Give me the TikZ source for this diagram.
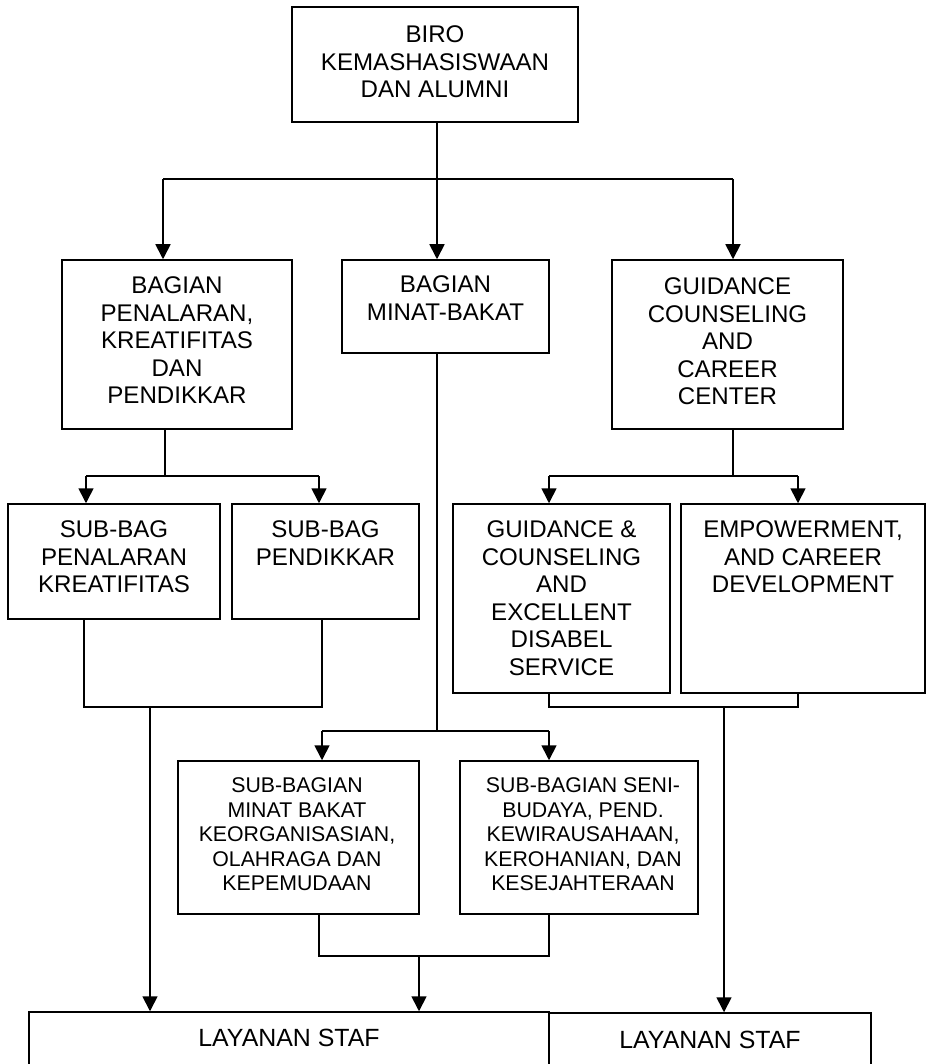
\documentclass[tikz,border=0pt]{standalone}
\usepackage{fontspec}
\setmainfont{Liberation Sans}
\usetikzlibrary{arrows.meta}
\tikzset{
  box/.style={draw, line width=1.5pt, inner sep=0pt},
  txt/.style={align=center, inner sep=0pt, anchor=north, font=\fontsize{24.1}{27.6}\selectfont},
  smalltxt/.style={align=center, inner sep=0pt, anchor=north, font=\fontsize{21.3}{24.5}\selectfont},
  ln/.style={line width=1.7pt},
  arr/.style={line width=1.7pt, -{Triangle[width=15pt,length=15pt]}}
}
\begin{document}
\begin{tikzpicture}[x=1pt,y=-1pt]
\useasboundingbox (0,0) rectangle (927,1064);
\clip (0,0) rectangle (927,1064);
% boxes
\node[box, minimum width=286pt, minimum height=115pt] (top) at (435,64.5) {};
\node[txt] (topt) at (435,25.5) {BIRO\\KEMASHASISWAAN\\DAN ALUMNI};

\node[box, minimum width=230pt, minimum height=169pt] (L1) at (177,344.5) {};
\node[txt] (L1t) at (177,276.5) {BAGIAN\\PENALARAN,\\KREATIFITAS\\DAN\\PENDIKKAR};

\node[box, minimum width=207pt, minimum height=93pt] (M1) at (445.5,306.5) {};
\node[txt] (M1t) at (445.5,275.5) {BAGIAN\\MINAT-BAKAT};

\node[box, minimum width=231pt, minimum height=169pt] (R1) at (727.5,344.5) {};
\node[txt] (R1t) at (727.5,277.5) {GUIDANCE\\COUNSELING\\AND\\CAREER\\CENTER};

\node[box, minimum width=212pt, minimum height=115pt] (L2a) at (114,561.5) {};
\node[txt] (L2at) at (114,520.5) {SUB-BAG\\PENALARAN\\KREATIFITAS};

\node[box, minimum width=187pt, minimum height=115pt] (L2b) at (325.5,561.5) {};
\node[txt] (L2bt) at (325.5,520.5) {SUB-BAG\\PENDIKKAR};

\node[box, minimum width=217pt, minimum height=189pt] (R2a) at (561.5,598.5) {};
\node[txt] (R2at) at (561.5,520.5) {GUIDANCE \&\\COUNSELING\\AND\\EXCELLENT\\DISABEL\\SERVICE};

\node[box, minimum width=244pt, minimum height=189pt] (R2b) at (803,598.5) {};
\node[txt] (R2bt) at (803,520.5) {EMPOWERMENT,\\AND CAREER\\DEVELOPMENT};

\node[box, minimum width=241pt, minimum height=153pt] (M2a) at (298.5,837.5) {};
\node[smalltxt] (M2at) at (297,777.5) {SUB-BAGIAN\hspace{18pt}\\MINAT BAKAT\hspace{16pt}\\KEORGANISASIAN,\\OLAHRAGA DAN\\KEPEMUDAAN};

\node[box, minimum width=238pt, minimum height=153pt] (M2b) at (579,837.5) {};
\node[smalltxt] (M2bt) at (583,777.5) {SUB-BAGIAN SENI-\\BUDAYA, PEND.\\KEWIRAUSAHAAN,\\KEROHANIAN, DAN\\KESEJAHTERAAN};

\node[box, minimum width=520pt, minimum height=120pt] (B1) at (289,1072) {};
\node[txt, font=\fontsize{24.9}{28}\selectfont] (B1t) at (289,1028.5) {LAYANAN STAF};

\node[box, minimum width=322pt, minimum height=120pt] (B2) at (710,1073) {};
\node[txt, font=\fontsize{24.9}{28}\selectfont] (B2t) at (710,1030.5) {LAYANAN STAF};

% junction coordinates
\coordinate (j0) at (437,179);
\coordinate (j0l) at (163,179);
\coordinate (j0r) at (733,179);
\coordinate (jL) at (165,476);
\coordinate (jLl) at (86,476);
\coordinate (jLr) at (319,476);
\coordinate (jR) at (733,476);
\coordinate (jRl) at (549,476);
\coordinate (jRr) at (798,476);
\coordinate (kLl) at (84,707);
\coordinate (kLr) at (322,707);
\coordinate (kL) at (150,707);
\coordinate (kRl) at (549,707);
\coordinate (kRr) at (798,707);
\coordinate (kR) at (724,707);
\coordinate (jM) at (437,731);
\coordinate (jMl) at (322,731);
\coordinate (jMr) at (549,731);
\coordinate (kMl) at (319,956);
\coordinate (kMr) at (549,956);
\coordinate (kM) at (419,956);

% top level
\draw[ln] (top.south -| j0) -- (j0);
\draw[ln] (j0l) -- (j0r);
\draw[arr] (j0l) -- (j0l |- L1.north);
\draw[arr] (j0) -- (j0 |- M1.north);
\draw[arr] (j0r) -- (j0r |- R1.north);

% left branch
\draw[ln] (L1.south -| jL) -- (jL);
\draw[ln] (jLl) -- (jLr);
\draw[arr] (jLl) -- (jLl |- L2a.north);
\draw[arr] (jLr) -- (jLr |- L2b.north);
\draw[ln] (L2a.south -| kLl) -- (kLl) -- (kLr) -- (L2b.south -| kLr);
\draw[arr] (kL) -- (kL |- B1.north);

% right branch
\draw[ln] (R1.south -| jR) -- (jR);
\draw[ln] (jRl) -- (jRr);
\draw[arr] (jRl) -- (jRl |- R2a.north);
\draw[arr] (jRr) -- (jRr |- R2b.north);
\draw[ln] (R2a.south -| kRl) -- (kRl) -- (kRr) -- (R2b.south -| kRr);
\draw[arr] (kR) -- (kR |- B2.north);

% middle branch
\draw[ln] (M1.south -| jM) -- (jM);
\draw[ln] (jMl) -- (jMr);
\draw[arr] (jMl) -- (jMl |- M2a.north);
\draw[arr] (jMr) -- (jMr |- M2b.north);
\draw[ln] (M2a.south -| kMl) -- (kMl) -- (kMr) -- (M2b.south -| kMr);
\draw[arr] (kM) -- (kM |- B1.north);
\end{tikzpicture}
\end{document}
